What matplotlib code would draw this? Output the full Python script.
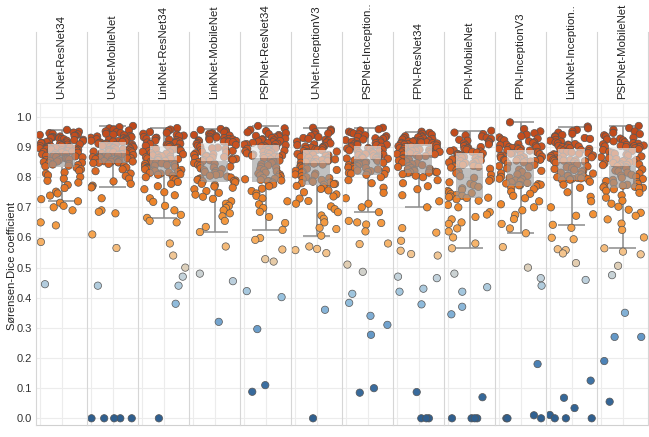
import numpy as np
import matplotlib
matplotlib.use("Agg")
import matplotlib.pyplot as plt
from matplotlib.colors import LinearSegmentedColormap
from matplotlib.lines import Line2D
from matplotlib import cbook

plt.rcParams['font.family'] = ['Liberation Sans', 'DejaVu Sans']

# ---------------- data ----------------
header_labels = ["U-Net-ResNet34", "U-Net-MobileNet", "LinkNet-ResNet34", "LinkNet-MobileNet",
                 "PSPNet-ResNet34", "U-Net-InceptionV3", "PSPNet-Inception..", "FPN-ResNet34",
                 "FPN-MobileNet", "FPN-InceptionV3", "LinkNet-Inception..", "PSPNet-MobileNet"]

y_ticks = [0.0, 0.1, 0.2, 0.3, 0.4, 0.5, 0.6, 0.7, 0.8, 0.9, 1.0]
y_title = "S\u00f8rensen-Dice coefficient"

dice_unet_resnet34 = [
    .957, .951, .948, .946, .944, .942, .940, .938, .937, .935, .933, .932, .930, .929, .927, .926, .924, .923, .921, .920, .918, .917, .915, .914, .913,
    .911, .910, .909, .908, .906, .905, .904, .903, .901, .900, .899, .897, .896, .895, .893, .892, .891, .889, .888, .887, .885, .884, .883, .882, .881,
    .879, .877, .876, .874, .872, .871, .869, .867, .866, .864, .862, .861, .859, .857, .856, .854, .852, .850, .848, .846, .844, .842, .840, .838, .836,
    .831, .826, .821, .816, .812, .806, .801, .795, .788, .782, .774, .764, .752, .746, .739, .727, .720, .715, .705, .700, .690, .650, .640, .585, .445]

dice_unet_mobilenet = [
    .970, .966, .962, .958, .955, .952, .949, .946, .944, .941, .939, .937, .935, .933, .931, .929, .927, .926, .924, .923, .921, .920, .919, .918, .917,
    .915, .914, .912, .911, .910, .908, .907, .905, .904, .902, .901, .899, .898, .896, .895, .893, .892, .890, .889, .888, .886, .885, .884, .883, .882,
    .880, .879, .877, .876, .874, .873, .871, .870, .868, .866, .865, .863, .862, .860, .859, .857, .856, .854, .853, .852, .851, .850, .849, .848, .847,
    .844, .838, .832, .826, .820, .812, .804, .795, .786, .778, .772, .768, .766, .730, .690, .685, .680, .610, .565, .440, 0.0, 0.0, 0.0, 0.0, 0.0]

dice_linknet_resnet34 = [
    .963, .958, .954, .950, .947, .944, .941, .938, .936, .933, .931, .929, .927, .925, .923, .921, .919, .917, .915, .913, .911, .910, .908, .907, .906,
    .904, .902, .900, .898, .896, .894, .892, .890, .888, .886, .884, .882, .880, .878, .876, .874, .872, .870, .868, .866, .864, .862, .861, .860, .858,
    .856, .854, .852, .850, .848, .846, .844, .842, .840, .838, .836, .834, .832, .830, .828, .826, .824, .822, .820, .818, .816, .814, .812, .810, .808,
    .805, .800, .795, .790, .784, .778, .770, .760, .750, .740, .730, .718, .705, .690, .675, .665, .655, .650, .580, .540, .500, .470, .440, .380, 0.0]

dice_linknet_mobilenet = [
    .960, .957, .954, .951, .948, .946, .944, .942, .940, .938, .936, .934, .932, .930, .928, .927, .925, .924, .922, .921, .920, .919, .918, .917, .916,
    .913, .910, .907, .904, .901, .898, .896, .893, .890, .887, .884, .882, .879, .876, .874, .871, .869, .867, .865, .863, .861, .860, .858, .857, .856,
    .853, .850, .847, .844, .841, .838, .835, .832, .829, .826, .823, .820, .817, .814, .811, .808, .805, .802, .799, .796, .793, .791, .789, .787, .786,
    .783, .778, .774, .769, .765, .760, .754, .748, .742, .735, .728, .720, .712, .705, .698, .690, .680, .670, .655, .635, .618, .570, .480, .455, .320]

dice_pspnet_resnet34 = [
    .970, .962, .957, .953, .949, .946, .943, .940, .937, .935, .932, .930, .928, .926, .924, .922, .920, .918, .916, .914, .913, .911, .910, .909, .908,
    .906, .904, .902, .900, .898, .896, .894, .892, .890, .888, .886, .884, .882, .880, .879, .877, .875, .874, .872, .871, .870, .869, .868, .867, .866,
    .863, .859, .855, .851, .847, .843, .839, .835, .831, .827, .823, .819, .815, .812, .809, .806, .803, .800, .797, .795, .793, .791, .789, .787, .786,
    .782, .776, .770, .762, .754, .746, .738, .730, .720, .710, .698, .685, .668, .648, .625, .598, .592, .560, .528, .520, .422, .402, .296, .110, .088]

dice_unet_inceptionv3 = [
    .964, .958, .953, .949, .945, .941, .937, .933, .930, .927, .924, .921, .918, .915, .912, .909, .906, .904, .902, .900, .898, .896, .894, .893, .891,
    .889, .887, .885, .883, .881, .879, .877, .875, .873, .871, .869, .867, .865, .863, .861, .859, .857, .856, .855, .853, .852, .851, .850, .849, .848,
    .845, .842, .838, .835, .831, .828, .824, .821, .818, .815, .812, .809, .806, .803, .800, .797, .794, .791, .788, .785, .782, .780, .778, .777, .775,
    .771, .766, .761, .756, .750, .743, .736, .729, .721, .712, .703, .694, .684, .673, .662, .650, .632, .628, .606, .570, .562, .558, .548, .360, 0.0]

dice_pspnet_inceptionv3 = [
    .964, .959, .955, .951, .948, .945, .942, .939, .936, .934, .931, .929, .927, .925, .923, .921, .919, .917, .915, .913, .911, .910, .908, .907, .906,
    .903, .901, .899, .897, .895, .893, .891, .889, .887, .885, .883, .881, .879, .877, .875, .873, .871, .869, .867, .866, .865, .864, .863, .862, .861,
    .858, .856, .854, .852, .850, .848, .846, .844, .842, .840, .838, .836, .834, .832, .830, .828, .826, .824, .822, .820, .817, .814, .812, .810, .808,
    .800, .790, .780, .765, .748, .730, .712, .700, .684, .655, .650, .648, .643, .620, .580, .578, .510, .486, .413, .383, .340, .310, .277, .100, .085]

dice_fpn_resnet34 = [
    .951, .947, .944, .941, .938, .936, .934, .932, .930, .928, .927, .925, .923, .922, .920, .919, .918, .917, .916, .915, .914, .913, .912, .911, .910,
    .908, .906, .905, .903, .902, .900, .899, .897, .896, .894, .893, .891, .890, .888, .887, .886, .884, .883, .882, .881, .879, .878, .877, .876, .875,
    .873, .870, .867, .864, .861, .858, .855, .852, .849, .846, .843, .840, .837, .834, .831, .828, .826, .824, .822, .820, .818, .817, .816, .815, .814,
    .810, .805, .800, .790, .780, .770, .760, .740, .720, .700, .631, .616, .589, .556, .545, .540, .470, .465, .430, .420, .378, .087, 0.0, 0.0, 0.0]

dice_fpn_mobilenet = [
    .954, .948, .943, .939, .935, .931, .927, .924, .921, .918, .915, .912, .909, .906, .903, .900, .897, .895, .893, .891, .889, .887, .885, .884, .882,
    .879, .877, .875, .873, .871, .869, .867, .865, .863, .861, .859, .857, .855, .853, .851, .849, .847, .845, .843, .841, .839, .837, .835, .834, .832,
    .828, .823, .818, .813, .808, .803, .798, .793, .788, .783, .778, .773, .768, .763, .758, .754, .750, .747, .744, .741, .738, .736, .734, .732, .731,
    .727, .722, .708, .700, .684, .676, .668, .660, .650, .645, .630, .620, .600, .580, .564, .480, .435, .420, .370, .345, .070, 0.0, 0.0, 0.0, 0.0]

dice_fpn_inceptionv3 = [
    .982, .960, .952, .946, .941, .936, .932, .928, .925, .922, .919, .916, .913, .910, .908, .906, .904, .902, .900, .899, .898, .897, .895, .894, .893,
    .890, .888, .886, .884, .882, .880, .878, .876, .874, .872, .870, .868, .866, .864, .862, .861, .860, .859, .858, .857, .856, .855, .854, .853, .852,
    .849, .845, .841, .837, .833, .829, .825, .821, .817, .813, .809, .805, .801, .798, .795, .792, .789, .786, .783, .781, .779, .777, .775, .774, .773,
    .770, .765, .760, .752, .745, .738, .730, .720, .710, .700, .690, .675, .661, .645, .630, .614, .568, .500, .465, .440, .180, .010, 0.0, 0.0, 0.0]

dice_linknet_inceptionv3 = [
    .968, .962, .957, .952, .948, .944, .940, .936, .933, .930, .927, .924, .921, .918, .915, .912, .910, .908, .906, .904, .902, .900, .898, .896, .894,
    .892, .890, .888, .886, .884, .882, .880, .878, .876, .874, .872, .870, .868, .866, .864, .862, .860, .858, .857, .856, .855, .854, .853, .852, .851,
    .848, .845, .842, .839, .836, .833, .830, .827, .824, .821, .818, .815, .812, .809, .806, .804, .802, .800, .798, .796, .795, .794, .793, .792, .791,
    .785, .775, .765, .750, .735, .720, .700, .677, .672, .642, .632, .599, .594, .561, .558, .547, .515, .459, .125, .068, .034, .011, 0.0, 0.0, 0.0]

dice_pspnet_mobilenet = [
    .970, .963, .957, .952, .947, .943, .939, .935, .931, .928, .925, .922, .919, .916, .913, .911, .909, .907, .905, .904, .903, .902, .901, .900, .899,
    .896, .893, .890, .887, .884, .881, .878, .875, .872, .869, .866, .863, .860, .857, .855, .853, .851, .849, .847, .845, .843, .842, .841, .840, .839,
    .836, .833, .829, .826, .822, .819, .815, .812, .808, .805, .801, .798, .794, .791, .787, .784, .781, .778, .775, .772, .770, .768, .766, .765, .764,
    .760, .755, .748, .740, .732, .722, .712, .702, .692, .682, .672, .660, .646, .625, .600, .564, .553, .544, .506, .475, .350, .270, .270, .190, .055]

panel_series = [dice_unet_resnet34, dice_unet_mobilenet, dice_linknet_resnet34, dice_linknet_mobilenet,
                dice_pspnet_resnet34, dice_unet_inceptionv3, dice_pspnet_inceptionv3, dice_fpn_resnet34,
                dice_fpn_mobilenet, dice_fpn_inceptionv3, dice_linknet_inceptionv3, dice_pspnet_mobilenet]

# ---------------- styling ----------------
cmap = LinearSegmentedColormap.from_list("dice", [
    (0.00, "#2f5f8f"), (0.10, "#3a6c9e"), (0.20, "#4f86ba"), (0.30, "#6d9fcc"),
    (0.40, "#98c2df"), (0.47, "#c4d3dc"), (0.50, "#dcd0bd"), (0.55, "#f4c48c"),
    (0.60, "#f7a955"), (0.70, "#f08a2c"), (0.80, "#e06d22"), (0.90, "#cb5320"),
    (1.00, "#b94318")])

W, H = 649, 437
fig = plt.figure(figsize=(W / 100, H / 100), dpi=100)

x0, pw = 36, 51
top_px, bot_px = 103, 425
y_at = lambda px: (418.3 - px) / 301.4
ymin, ymax = y_at(bot_px), y_at(top_px)

rng = np.random.default_rng(7)

for i, (lab, vals) in enumerate(zip(header_labels, panel_series)):
    vals = np.asarray(vals, dtype=float)
    ax = fig.add_axes([(x0 + pw * i) / W, 1 - bot_px / H, pw / W, (bot_px - top_px) / H])
    ax.set_xlim(-1, 1)
    ax.set_ylim(ymin, ymax)
    for s in ax.spines.values():
        s.set_visible(False)
    ax.spines['bottom'].set_visible(True)
    ax.spines['bottom'].set_color('#d0d0d0')
    ax.spines['top'].set_visible(True)
    ax.spines['top'].set_color('#ececec')
    ax.set_xticks([])
    ax.set_yticks(y_ticks)
    ax.tick_params(axis='y', length=0, pad=3, labelsize=8, labelcolor='#333333')
    if i == 0:
        ax.set_yticklabels([f"{t:.1f}" for t in y_ticks])
    else:
        ax.set_yticklabels([])
    for t in y_ticks:
        ax.axhline(t, color='#ececec', lw=0.8, zorder=0)
    for gx in (-0.83, 0.0):
        ax.axvline(gx, color='#ececec', lw=0.8, zorder=0)

    st = cbook.boxplot_stats(vals, whis=1.5)[0]
    q1, med, q3, wlo, whi = st['q1'], st['med'], st['q3'], st['whislo'], st['whishi']
    bw = 1.02
    ax.vlines(0, q3, whi, color='#8c8c8c', lw=1.1, zorder=1.5)
    ax.vlines(0, wlo, q1, color='#8c8c8c', lw=1.1, zorder=1.5)
    ax.hlines([wlo, whi], -bw / 2, bw / 2, color='#8c8c8c', lw=1.1, zorder=1.5)

    jx = rng.uniform(-0.86, 0.86, size=len(vals))
    ax.scatter(jx, vals, s=28, c=vals, cmap=cmap, vmin=0, vmax=1,
               edgecolors='#555555', linewidths=0.5, zorder=2)

    ax.bar(0, med - q1, bottom=q1, width=bw, color='#9c9c9c', alpha=0.62, lw=0, zorder=3)
    ax.bar(0, q3 - med, bottom=med, width=bw, color='#e6e6e6', alpha=0.65, lw=0, zorder=3)

    fig.text((x0 + pw * (i + 0.5)) / W, 1 - 99 / H, lab, rotation=90, ha='center', va='bottom',
             fontsize=8.2, color='#222222')

for i in range(len(header_labels) + 1):
    xx = (x0 + pw * i) / W
    fig.add_artist(Line2D([xx, xx], [1 - 32 / H, 1 - bot_px / H], color='#d6d6d6', lw=0.8))

fig.text(12 / W, 1 - 266 / H, y_title, rotation=90, ha='center', va='center',
         fontsize=8, color='#222222')

fig.savefig("out.png", dpi=100)
